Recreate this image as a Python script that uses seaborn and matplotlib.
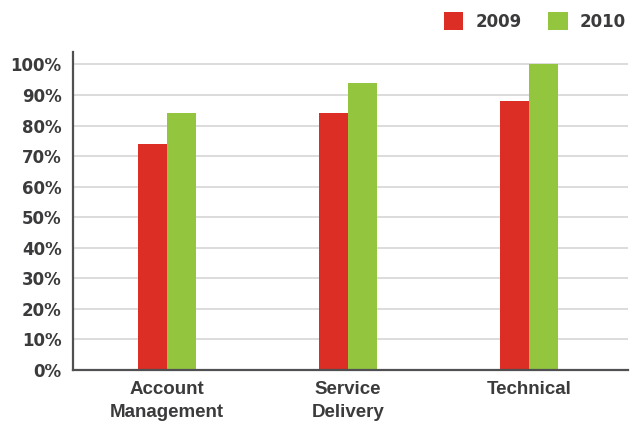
import matplotlib
matplotlib.use("Agg")
import matplotlib.pyplot as plt
from matplotlib.patches import Patch
import seaborn as sns
import pandas as pd

categories = ["Account\nManagement", "Service\nDelivery", "Technical"]
years = ["2009", "2010"]
values_2009 = [74, 84, 88]
values_2010 = [84, 94, 100]
yticks = [0, 10, 20, 30, 40, 50, 60, 70, 80, 90, 100]
ytick_labels = [f"{v}%" for v in yticks]

colors = ["#dc2e25", "#93c53e"]
text_color = "#3b3b3d"

df = pd.DataFrame({
    "category": categories * 2,
    "year": [years[0]] * 3 + [years[1]] * 3,
    "value": values_2009 + values_2010,
})

sns.set_theme(style="white")
plt.rcParams["font.family"] = ["Liberation Sans", "DejaVu Sans"]
plt.rcParams["font.weight"] = "bold"

fig = plt.figure(figsize=(6.34, 4.21), dpi=100)
ax = fig.add_axes([0.115, 0.121, 0.876, 0.755])

sns.barplot(data=df, x="category", y="value", hue="year", palette=colors,
            width=0.32, saturation=1, linewidth=0, ax=ax, legend=False)

ax.set_xlim(-0.52, 2.55)
ax.set_ylim(0, 104)
ax.set_yticks(yticks)
ax.set_yticklabels(ytick_labels)
ax.set_xlabel("")
ax.set_ylabel("")

ax.yaxis.grid(True, color="#d6d6d6", linewidth=1.2)
ax.set_axisbelow(True)
for side in ["top", "right"]:
    ax.spines[side].set_visible(False)
for side in ["left", "bottom"]:
    ax.spines[side].set_color("#505052")
    ax.spines[side].set_linewidth(1.6)

ax.tick_params(axis="both", length=0, labelcolor=text_color)
ax.tick_params(axis="y", pad=8)
ax.tick_params(axis="x", pad=8)
for lbl in ax.get_xticklabels():
    lbl.set_fontsize(13.5)
    lbl.set_fontweight("bold")
    lbl.set_linespacing(1.45)
for lbl in ax.get_yticklabels():
    lbl.set_family("DejaVu Sans")
    lbl.set_fontsize(12)
    lbl.set_fontweight("bold")

handles = [Patch(facecolor=c, edgecolor="none") for c in colors]
leg = ax.legend(handles, years, ncol=2, loc="upper right",
                bbox_to_anchor=(1.014, 1.012), bbox_transform=fig.transFigure,
                frameon=False, handlelength=1.15, handleheight=1.35,
                handletextpad=0.75, columnspacing=1.6, borderpad=0.5,
                prop={"family": "DejaVu Sans", "size": 12, "weight": "bold"})
for t in leg.get_texts():
    t.set_color(text_color)

fig.savefig("out.png", dpi=100)
